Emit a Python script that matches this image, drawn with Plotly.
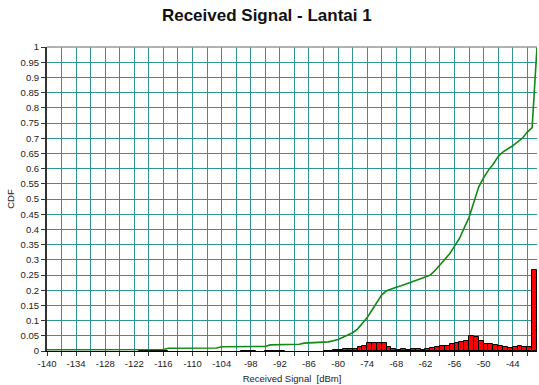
import plotly.graph_objects as go

# ---- data ----
cdf_x = [-140, -122, -116, -115, -105, -104, -95, -94, -88, -87, -82, -81, -80, -79, -78,
         -77, -76, -75, -74, -73, -72, -71, -70, -69, -68, -67, -66, -65, -64, -63,
         -62, -61, -60, -59, -58, -57, -56, -55, -54, -53, -52, -51, -50, -49, -48,
         -47, -46, -45, -44, -43, -42, -41, -40, -39]
cdf_y = [0.004, 0.004, 0.005, 0.009, 0.010, 0.014, 0.015, 0.020, 0.022, 0.026, 0.030, 0.034, 0.038, 0.045, 0.052,
         0.060, 0.072, 0.090, 0.110, 0.135, 0.160, 0.185, 0.198, 0.205, 0.210, 0.215, 0.220, 0.227, 0.232, 0.238,
         0.244, 0.250, 0.265, 0.283, 0.300, 0.320, 0.345, 0.370, 0.405, 0.440, 0.490, 0.540, 0.570, 0.595, 0.615,
         0.640, 0.655, 0.665, 0.675, 0.688, 0.700, 0.720, 0.735, 1.000]

hist_bins = [-121, -120, -119, -118, -117, -116, -100, -99, -98, -95, -94, -93, -92, -83, -82,
             -81, -80, -79, -78, -77, -76, -75, -74, -73, -72, -71, -70, -69, -68, -67,
             -66, -65, -64, -63, -62, -61, -60, -59, -58, -57, -56, -55, -54, -53, -52,
             -51, -50, -49, -48, -47, -46, -45, -44, -43, -42, -41, -40]
hist_vals = [0.0008, 0.0008, 0.0008, 0.0008, 0.0008, 0.0008, 0.0008, 0.0008, 0.0008, 0.0008, 0.0008, 0.0008, 0.0008, 0.0008, 0.0008,
             0.003, 0.004, 0.005, 0.005, 0.008, 0.012, 0.018, 0.025, 0.025, 0.025, 0.025, 0.013, 0.007, 0.004, 0.006,
             0.004, 0.005, 0.007, 0.004, 0.007, 0.011, 0.014, 0.015, 0.015, 0.023, 0.026, 0.030, 0.034, 0.049, 0.046,
             0.032, 0.023, 0.022, 0.019, 0.016, 0.012, 0.009, 0.014, 0.015, 0.014, 0.014, 0.265]

x_tick_vals = [-140, -134, -128, -122, -116, -110, -104, -98, -92, -86, -80, -74, -68, -62, -56, -50, -44]
x_tick_text = ["-140", "-134", "-128", "-122", "-116", "-110", "-104", "-98", "-92", "-86",
               "-80", "-74", "-68", "-62", "-56", "-50", "-44"]

GRID = "#2f9595"
FONT = "Liberation Sans, Arial, sans-serif"

fig = go.Figure()
fig.add_trace(go.Bar(
    x=hist_bins, y=hist_vals, width=1, offset=0,
    marker=dict(color="#ff0000", line=dict(color="#000000", width=1)),
    showlegend=False, hoverinfo="skip"))
fig.add_trace(go.Scatter(
    x=cdf_x, y=cdf_y, mode="lines",
    line=dict(color="#138a13", width=1.6),
    showlegend=False, hoverinfo="skip"))

fig.update_layout(
    width=539, height=385,
    margin=dict(l=47, r=2, t=47, b=34),
    paper_bgcolor="white", plot_bgcolor="white",
    bargap=0,
    font=dict(family=FONT, size=10, color="#222222"),
    title=dict(text="<b>Received Signal - Lantai 1</b>", x=0.495, xanchor="center",
               y=0.962, yanchor="middle",
               font=dict(family=FONT, size=17, color="#111111")),
    shapes=[dict(type="line", xref="paper", yref="paper", x0=0, x1=1, y0=1, y1=1,
                 line=dict(color="#999999", width=1.5))],
)
fig.update_xaxes(
    range=[-140, -39],
    tickmode="array", tickvals=x_tick_vals, ticktext=x_tick_text,
    ticks="outside", ticklen=4, tickcolor="#333333",
    showgrid=True, gridcolor=GRID, gridwidth=1,
    minor=dict(dtick=3, tick0=-140, showgrid=True, gridcolor=GRID, gridwidth=1,
               ticks="outside", ticklen=4, tickcolor="#333333"),
    showline=True, linecolor="#000000", linewidth=1,
    zeroline=False,
    tickfont=dict(size=9.5),
    title=dict(text="Received Signal \u00a0[dBm]", font=dict(size=9.5), standoff=6),
)
fig.update_yaxes(
    range=[0, 1], dtick=0.05, tick0=0,
    ticks="outside", ticklen=4, tickcolor="#333333",
    showgrid=True, gridcolor=GRID, gridwidth=1,
    showline=True, linecolor="#333333", linewidth=2,
    zeroline=False,
    tickfont=dict(size=9.5),
    title=dict(text="CDF", font=dict(size=9.5), standoff=4),
)

fig.write_html("out.html", config={"displayModeBar": False},
               post_script="document.body.style.margin='0';document.body.style.overflow='hidden';")
